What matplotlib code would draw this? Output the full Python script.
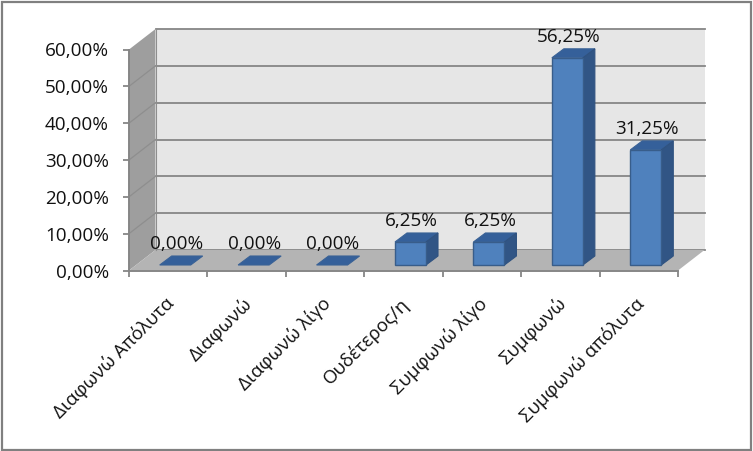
import matplotlib
matplotlib.use("Agg")
import matplotlib.pyplot as plt
from matplotlib.patches import Polygon, Rectangle
from matplotlib.transforms import Affine2D

plt.rcParams['font.family'] = ['Open Sans', 'Noto Sans', 'DejaVu Sans']

categories = ['Διαφωνώ Απόλυτα', 'Διαφωνώ', 'Διαφωνώ λίγο', 'Ουδέτερος/η',
              'Συμφωνώ λίγο', 'Συμφωνώ', 'Συμφωνώ απόλυτα']
values = [0, 0, 0, 6.25, 6.25, 56.25, 31.25]
yticks = [0, 10, 20, 30, 40, 50, 60]

W, H = 753, 451
fig = plt.figure(figsize=(W / 100, H / 100), dpi=100, facecolor='white')
# front plane of the fake 3d box, pixel bounds from the picture
left, right, top, bottom = 129, 678, 49.5, 270.5
ax = fig.add_axes([left / W, 1 - bottom / H, (right - left) / W, (bottom - top) / H])
ax.set_xlim(-0.5, 6.5)
ax.set_ylim(0, 60)
ax.patch.set_visible(False)

ux = (right - left) / 7   # px per category
uy = (bottom - top) / 60  # px per percent
box_dx, box_dy = 26.5 / ux, 20.5 / uy    # depth of the box
bar_dx, bar_dy = 12 / ux, 9 / uy         # depth of a bar
off_x, off_y = 7 / ux, 5.5 / uy          # bar front face sits inside the floor
bar_w = 31 / ux

x0, x1 = -0.5, 6.5
grid = '#868686'


def poly(pts, fc, ec='none', lw=0, z=1):
    ax.add_patch(Polygon(pts, closed=True, facecolor=fc, edgecolor=ec, linewidth=lw,
                         zorder=z, clip_on=False))


# walls
poly([(x0 + box_dx, box_dy), (x1 + box_dx, box_dy), (x1 + box_dx, 60 + box_dy), (x0 + box_dx, 60 + box_dy)], '#e6e6e6')
poly([(x0, 0), (x0 + box_dx, box_dy), (x0 + box_dx, 60 + box_dy), (x0, 60)], '#9e9e9e', z=1.5)
poly([(x0, 0), (x1, 0), (x1 + box_dx, box_dy), (x0 + box_dx, box_dy)], '#b4b4b4', z=1.5)

# gridlines on back and side wall
for t in yticks:
    ax.plot([x0 + box_dx, x1 + box_dx], [t + box_dy, t + box_dy], color=grid, lw=1.3, zorder=1.2, clip_on=False)
    if 0 < t < 60:
        ax.plot([x0, x0 + box_dx], [t, t + box_dy], color='#8e8e8e', lw=0.9, zorder=1.6, clip_on=False)
ax.plot([x0 + box_dx, x0 + box_dx], [box_dy, 60 + box_dy], color='#8e8e8e', lw=0.8, zorder=1.6, clip_on=False)

# bars
for i, v in enumerate(values):
    a = i - bar_w / 2 + off_x
    b = i + bar_w / 2 + off_x
    y0 = off_y
    y1 = off_y + v
    poly([(a, y1), (b, y1), (b + bar_dx, y1 + bar_dy), (a + bar_dx, y1 + bar_dy)], '#35609a', '#3a6296', 0.8, z=3)
    if v > 0:
        poly([(b, y0), (b + bar_dx, y0 + bar_dy), (b + bar_dx, y1 + bar_dy), (b, y1)], '#315585', '#2f5280', 0.8, z=3)
        ax.add_patch(Rectangle((a, y0), bar_w, v, facecolor='#4f81bd', edgecolor='#385d8a',
                               linewidth=1, zorder=3.2, clip_on=False))
    label = f'{v:.2f}%'.replace('.', ',')
    ax.annotate(label, (i, v), xytext=(8, 26), textcoords='offset pixels', ha='center', va='center',
                fontsize=13.6, color='#111111', zorder=5, annotation_clip=False)

# axes
for s in ['top', 'right']:
    ax.spines[s].set_visible(False)
for s in ['left', 'bottom']:
    ax.spines[s].set_color(grid)
    ax.spines[s].set_linewidth(1.4)
    ax.spines[s].set_zorder(2)

ax.set_yticks(yticks)
ax.set_yticklabels([f'{t:.2f}%'.replace('.', ',') for t in yticks], fontsize=13.6, color='#111111')
ax.tick_params(axis='y', length=4.5, width=1.3, color=grid, pad=10)

ax.set_xticks(range(len(categories)))
ax.set_xticklabels(categories, rotation=45, ha='right', va='top', rotation_mode='anchor',
                   fontsize=13.4, color='#111111')
ax.set_xticks([k - 0.5 for k in range(len(categories) + 1)], minor=True)
ax.tick_params(axis='x', which='major', length=0, pad=17)
ax.tick_params(axis='x', which='minor', length=4.5, width=1.3, color=grid)
for lab in ax.get_xticklabels():
    lab.set_transform(lab.get_transform() + Affine2D().translate(-4, 0))

# picture frame
fig.add_artist(Rectangle((1.5 / W, 1 / H), 749 / W, 448 / H, transform=fig.transFigure,
                         fill=False, edgecolor='#808080', linewidth=1.6))

fig.savefig('out.png', dpi=100)
